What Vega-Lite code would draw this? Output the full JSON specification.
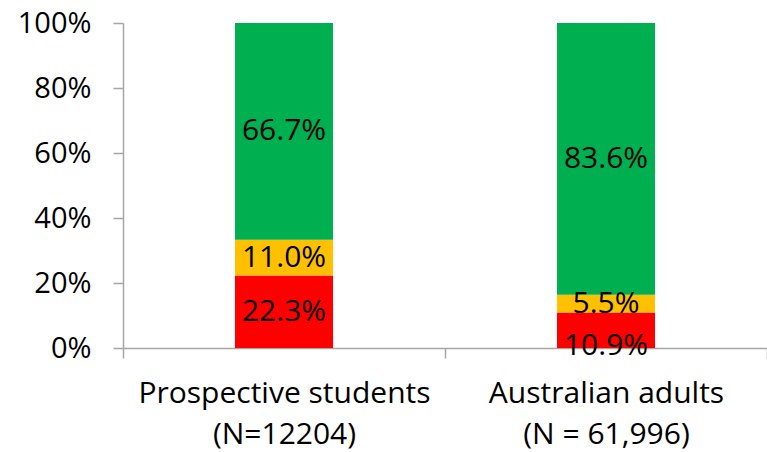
{
  "$schema": "https://vega.github.io/schema/vega-lite/v6.json",
  "width": 644,
  "height": 325,
  "autosize": {"type": "none"},
  "padding": {"left": 123, "top": 23, "right": 0, "bottom": 104},
  "background": "white",
  "config": {
    "view": {"stroke": null},
    "font": "Open Sans"
  },
  "data": {
    "values": [
      {"group": "Prospective students\n(N=12204)", "level": "Negative", "pct": 22.3},
      {"group": "Prospective students\n(N=12204)", "level": "Neutral", "pct": 11.0},
      {"group": "Prospective students\n(N=12204)", "level": "Positive", "pct": 66.7},
      {"group": "Australian adults\n(N = 61,996)", "level": "Negative", "pct": 10.9},
      {"group": "Australian adults\n(N = 61,996)", "level": "Neutral", "pct": 5.5},
      {"group": "Australian adults\n(N = 61,996)", "level": "Positive", "pct": 83.6}
    ]
  },
  "transform": [
    {"stack": "pct", "groupby": ["group"], "sort": [{"field": "level", "order": "ascending"}], "as": ["y0", "y1"]},
    {"calculate": "(datum.y0 + datum.y1) / 2", "as": "mid"},
    {"calculate": "format(datum.pct, '.1f') + '%'", "as": "label"}
  ],
  "encoding": {
    "x": {
      "field": "group",
      "type": "nominal",
      "sort": null,
      "scale": {"paddingInner": 0, "paddingOuter": 0},
      "axis": {
        "title": null,
        "labelAngle": 0,
        "labelExpr": "split(datum.label, '\\n')",
        "labelFontSize": 30,
        "labelColor": "#000000",
        "labelLimit": 0,
        "labelLineHeight": 41,
        "labelPadding": 20,
        "labelBaseline": "top",
        "tickBand": "extent",
        "tickSize": 10,
        "tickColor": "#a6a6a6",
        "domainColor": "#a6a6a6",
        "domainWidth": 1.5,
        "tickWidth": 1.5
      }
    }
  },
  "layer": [
    {
      "mark": {"type": "bar", "size": 98},
      "encoding": {
        "y": {
          "field": "y1",
          "type": "quantitative",
          "scale": {"domain": [0, 100], "nice": false},
          "axis": {
            "title": null,
            "values": [0, 20, 40, 60, 80, 100],
            "labelExpr": "datum.value + '%'",
            "labelFontSize": 29,
            "labelColor": "#000000",
            "labelPadding": 22,
            "tickSize": 10,
            "tickColor": "#a6a6a6",
            "domainColor": "#a6a6a6",
            "domainWidth": 1.5,
            "tickWidth": 1.5,
            "grid": false
          }
        },
        "y2": {"field": "y0"},
        "color": {
          "field": "level",
          "type": "nominal",
          "scale": {"domain": ["Negative", "Neutral", "Positive"], "range": ["#FF0000", "#FFC000", "#00B050"]},
          "legend": null
        }
      }
    },
    {
      "transform": [{"filter": "!(datum.level == 'Negative' && datum.pct < 15)"}],
      "mark": {"type": "text", "fontSize": 30, "color": "#000000", "baseline": "middle", "align": "center"},
      "encoding": {
        "y": {"field": "mid", "type": "quantitative"},
        "text": {"field": "label"}
      }
    },
    {
      "transform": [{"filter": "datum.level == 'Negative' && datum.pct < 15"}],
      "mark": {"type": "text", "fontSize": 30, "color": "#000000", "baseline": "middle", "align": "center", "dy": 16},
      "encoding": {
        "y": {"field": "mid", "type": "quantitative"},
        "text": {"field": "label"}
      }
    }
  ]
}
